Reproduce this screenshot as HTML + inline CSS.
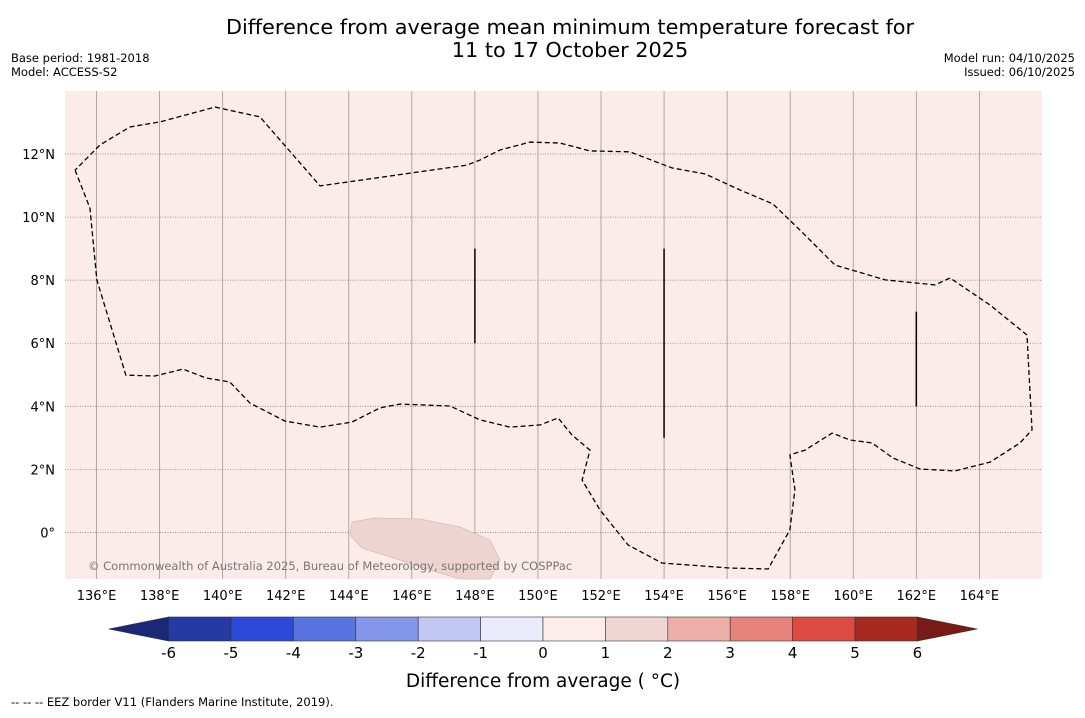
<!DOCTYPE html>
<html><head><meta charset="utf-8"><style>
body{margin:0;background:#fff;font-family:"Liberation Sans","DejaVu Sans",sans-serif}
svg text{font-family:"DejaVu Sans","Liberation Sans",sans-serif}
</style></head><body>
<svg id="c" width="1085" height="713" xmlns="http://www.w3.org/2000/svg">
<text x="570" y="34" font-size="20.8" text-anchor="middle">Difference from average mean minimum temperature forecast for</text>
<text x="570" y="57" font-size="20.8" text-anchor="middle">11 to 17 October 2025</text>
<text x="11" y="62" font-size="11.5">Base period: 1981-2018</text>
<text x="11" y="76" font-size="11.5">Model: ACCESS-S2</text>
<text x="1075" y="62" font-size="11.5" text-anchor="end">Model run: 04/10/2025</text>
<text x="1075" y="76" font-size="11.5" text-anchor="end">Issued: 06/10/2025</text>
<rect x="65" y="91" width="977" height="488" fill="#fbebe9"/>
<g id="grid"></g>
<polygon points="352,522 375,518 420,519 460,527 490,540 500,560 490,579 460,579 430,570 400,560 362,548 350,535" fill="#eed4d0" stroke="#d9bcb7" stroke-width="0.8"/>
<g id="marks"></g>
<text x="88" y="570" font-size="11.5" fill="#777">© Commonwealth of Australia 2025, Bureau of Meteorology, supported by COSPPac</text>
<g id="cbar"></g>
<text x="543" y="687" font-size="18.5" text-anchor="middle">Difference from average ( °C)</text>
<text x="11" y="706" font-size="11.5">--  --  -- EEZ border V11 (Flanders Marine Institute, 2019).</text>
</svg>
<script>
const lonTicks=[136,138,140,142,144,146,148,150,152,154,156,158,160,162,164];
const latTicks=[0,2,4,6,8,10,12];
const eezLon=[135.32,135.79,136.01,136.93,137.85,138.74,139.47,140.23,140.87,141.98,143.09,144.10,144.99,145.62,147.21,148.16,149.11,150.07,150.64,151.08,151.65,151.40,151.97,152.86,153.93,156.09,157.30,157.99,158.15,157.99,158.47,159.33,159.90,160.59,161.26,162.12,163.23,164.34,165.29,165.67,165.51,164.34,163.07,162.59,161.01,159.42,158.31,157.45,156.41,155.30,154.25,152.92,151.65,150.70,149.75,148.80,148.16,147.75,143.09,141.18,139.76,138.01,137.06,136.11,135.32];
const eezLat=[11.49,10.29,8.01,4.99,4.96,5.18,4.90,4.77,4.10,3.53,3.34,3.50,3.95,4.07,4.01,3.57,3.34,3.41,3.63,3.09,2.61,1.66,0.71,-0.40,-0.97,-1.13,-1.16,0.08,1.35,2.46,2.61,3.15,2.93,2.84,2.36,2.01,1.95,2.23,2.84,3.25,6.26,7.21,8.07,7.85,8.01,8.48,9.59,10.42,10.86,11.37,11.56,12.07,12.10,12.35,12.38,12.13,11.81,11.65,10.99,13.18,13.49,13.02,12.86,12.29,11.49];
const segLon=[148,154,162];
const segLat0=[9,9,7];
const segLat1=[6,3,4];
const cbLevels=[-6,-5,-4,-3,-2,-1,0,1,2,3,4,5,6];
const cbColors=["#263aa6","#2c4ad9","#5873e2","#8497ea","#c0c8f3","#e9ebfa","#fcecea","#efd6d2","#ecaea8","#e5837c","#db4b42","#a8291f"];
const cbUnder="#1b2878", cbOver="#761b15";
const NS="http://www.w3.org/2000/svg";
const X=lon=>65+(lon-135)*31.53, Y=lat=>91+(14-lat)*31.53;
function mk(t,a,p){const e=document.createElementNS(NS,t);for(const k in a)e.setAttribute(k,a[k]);p.appendChild(e);return e;}
const grid=document.getElementById('grid');
lonTicks.forEach(l=>{
 const g=mk('line',{x1:X(l),x2:X(l),y1:91,y2:579,stroke:'#999','stroke-width':0.8},grid);
 
 
 const t=mk('text',{x:X(l),y:600,'font-size':13,'text-anchor':'middle'},grid);t.textContent=l+'°E';
 
 
});
latTicks.forEach(l=>{
 const g=mk('line',{x1:65,x2:1042,y1:Y(l),y2:Y(l),stroke:'#888','stroke-width':0.8,'stroke-dasharray':'1,1.5'},grid);
 
 
 const t=mk('text',{x:55,y:Y(l)+5,'font-size':13,'text-anchor':'end'},grid);t.textContent=l===0?'0°':l+'°N';
 
 
});
const marks=document.getElementById('marks');
const eez=mk('polyline',{points:eezLon.map((l,i)=>X(l)+','+Y(eezLat[i])).join(' '),fill:'none',stroke:'#000','stroke-width':1.3,'stroke-dasharray':'5,3'},marks);


segLon.forEach((l,i)=>{
 const s=mk('line',{x1:X(l),x2:X(l),y1:Y(segLat0[i]),y2:Y(segLat1[i]),stroke:'#000','stroke-width':1.5},marks);
 
 
});
const cb=document.getElementById('cbar');
const CX=v=>543+v*62.4, cy=617, ch=24;
cbColors.forEach((c,i)=>{
 const r=mk('rect',{x:CX(cbLevels[i]),y:cy,width:CX(cbLevels[i+1])-CX(cbLevels[i]),height:ch,fill:c,stroke:'#333','stroke-width':0.6},cb);
 
 
});
const u=mk('polygon',{points:`${CX(-6)},${cy} ${CX(-6)-60},${cy+ch/2} ${CX(-6)},${cy+ch}`,fill:cbUnder,stroke:'#333','stroke-width':0.6},cb);


const o=mk('polygon',{points:`${CX(6)},${cy} ${CX(6)+60},${cy+ch/2} ${CX(6)},${cy+ch}`,fill:cbOver,stroke:'#333','stroke-width':0.6},cb);


cbLevels.forEach(v=>{
 const t=mk('text',{x:CX(v),y:658,'font-size':15,'text-anchor':'middle'},cb);t.textContent=v;
 
 
});
</script>
</body></html>
